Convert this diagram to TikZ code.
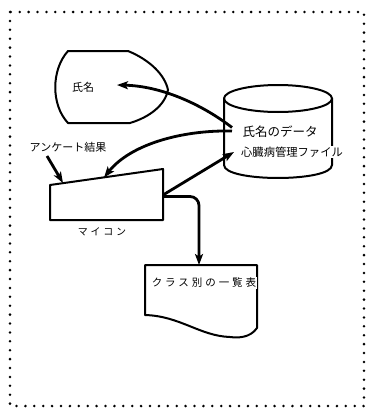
\documentclass[tikz,border=0pt]{standalone}
\usepackage{fontspec}
\newfontfamily\jp{Noto Sans CJK JP}
\newfontfamily\jpsp{Noto Sans CJK JP}[LetterSpace=28]
\usetikzlibrary{arrows.meta}
\begin{document}
\begin{tikzpicture}[x=1pt,y=-1pt,
  shapeline/.style={line width=2pt, line join=round},
  conn/.style={line width=2.8pt, -{Stealth[length=11pt,width=8pt,inset=2.5pt]}},
  lbl/.style={inner sep=0pt}]
\useasboundingbox (0,0) rectangle (366,410);
% dotted frame
\draw[line width=2.8pt, line cap=round, dash pattern=on 0pt off 8.9pt] (10,12) rectangle (364,406);

% display symbol
\draw[shapeline] (68,51) -- (128,51) .. controls (150,60) and (165,75) .. (168,90)
  .. controls (165,105) and (150,117) .. (130,123) -- (68,123)
  .. controls (51,105) and (51,70) .. (68,51) -- cycle;
\node[lbl, font=\jp\fontsize{11}{13}\selectfont] (name) at (83,87) {氏名};

% cylinder (file)
\draw[shapeline] (224,98) -- (224,165) .. controls (224,182.3) and (332,182.3) .. (332,165) -- (332,98);
\draw[shapeline] (278,98.5) ellipse [x radius=54, y radius=13.5];
\node[lbl, font=\jp\fontsize{12.5}{14}\selectfont] (data) at (280,132) {氏名のデータ};
\node[lbl, fill=white, inner sep=0.5pt, font=\jp\fontsize{11.3}{13}\selectfont] (file) at (292,152) {心臓病管理ファイル};

% manual input
\draw[shapeline] (50,185) -- (163,169) -- (163,220) -- (50,220) -- cycle;
\node[lbl, font=\jpsp\fontsize{10}{12}\selectfont] (mc) at (102,232) {マイコン};
\node[lbl, font=\jp\fontsize{11}{13}\selectfont] (anq) at (68,147) {アンケート結果};

% document
\draw[shapeline] (145,265) -- (257,265) -- (257,328)
  .. controls (250,338) and (238,338) .. (230,337)
  .. controls (200,336) and (180,316) .. (145,315) -- cycle;
\node[lbl, fill=white, inner sep=0.8pt, font=\jpsp\fontsize{10.5}{12}\selectfont] (list) at (204,283) {クラス別の一覧表};

% connector end points
\coordinate (fileA) at (232,127.5);
\coordinate (fileB) at (232,131);
\coordinate (fileC) at (234,152);
\coordinate (nameIn) at (117,85);
\coordinate (mcTopA) at (104,177.5);
\coordinate (mcTopB) at (63,183);
\coordinate (mcRightA) at (163,195);
\coordinate (mcRightB) at (163,196.5);
\coordinate (listTop) at (199,265);
\coordinate (anqTail) at (47,156);

% connectors
\draw[conn] (fileA) .. controls (200,103) and (160,86) .. (nameIn);
\draw[conn] (fileB) .. controls (180,130) and (130,145) .. (mcTopA);
\draw[conn] (mcRightA) -- (fileC);
\draw[conn, rounded corners=9pt] (mcRightB) -| (listTop);
\draw[conn] (anqTail) -- (mcTopB);
\end{tikzpicture}
\end{document}
